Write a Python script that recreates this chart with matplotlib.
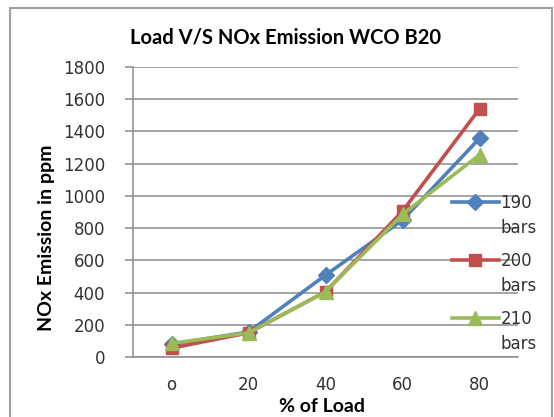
import matplotlib
matplotlib.use("Agg")
import matplotlib.pyplot as plt
from matplotlib.patches import Rectangle

load_labels = ["o", "20", "40", "60", "80"]
nox_190 = [80, 155, 508, 850, 1357]
nox_200 = [55, 150, 405, 905, 1540]
nox_210 = [85, 150, 405, 885, 1255]
series_names = ["190", "200", "210"]

W, H = 554, 417
fig = plt.figure(figsize=(W / 100, H / 100), dpi=100)
ax = fig.add_axes([133 / W, 1 - 357 / H, 385 / W, 290 / H])

grey = "#8c8c8c"
x = range(len(load_labels))
styles = [
    (nox_190, "#4F81BD", "D", 8),
    (nox_200, "#C0504D", "s", 9),
    (nox_210, "#9BBB59", "^", 10),
]
handles = []
for vals, col, mk, ms in styles:
    h, = ax.plot(x, vals, color=col, lw=2.6, marker=mk, ms=ms, zorder=3)
    handles.append(h)

ax.set_xlim(-0.5, 4.5)
ax.set_ylim(0, 1800)
ax.set_yticks(range(0, 1801, 200))
ax.set_xticks(list(x))
ax.set_xticklabels(load_labels)
ax.yaxis.grid(True, color=grey, lw=1.1)
ax.set_axisbelow(True)
for s in ["top", "right"]:
    ax.spines[s].set_visible(False)
for s in ["left", "bottom"]:
    ax.spines[s].set_color(grey)
    ax.spines[s].set_linewidth(1.1)
ax.tick_params(axis="y", length=6, width=1.1, color=grey, labelsize=12,
               labelcolor="#333333", pad=14)
ax.tick_params(axis="x", length=0, labelsize=12, labelcolor="#333333", pad=14)

lab_font = dict(family="Lato", weight="bold", size=14)
ax.set_xlabel("% of Load", **lab_font)
ax.xaxis.label.set_va("center")
ax.xaxis.set_label_coords(0.49, (357 - 406) / 290)
ax.set_ylabel("NOx Emission in ppm", **lab_font)
ax.yaxis.label.set_va("center")
ax.yaxis.set_label_coords((47 - 133) / 385, (357 - 238) / 290)

fig.text(285 / W, 1 - 37 / H, "Load V/S NOx Emission WCO B20",
         ha="center", va="center", family="Lato", weight="bold", size=14.5)

leg = ax.legend(handles, series_names, loc="upper left",
                bbox_to_anchor=(452 / W, 1 - 194 / H),
                bbox_transform=fig.transFigure, frameon=False,
                fontsize=12, handlelength=2.8, handletextpad=0.1,
                labelspacing=2.4, borderpad=0, borderaxespad=0)
for t in leg.get_texts():
    t.set_color("#333333")

fig.canvas.draw()
inv = fig.transFigure.inverted()
for t in leg.get_texts():
    bb = t.get_window_extent().transformed(inv)
    fig.text(bb.x0, bb.y0 - 7 / H, "bars", ha="left", va="top",
             fontsize=12, color="#333333")

fig.patches.append(Rectangle((10 / W, -0.1), 542 / W, 1.1 - 8 / H,
                             transform=fig.transFigure, fill=False,
                             edgecolor="#a0a0a0", lw=1.5))

fig.savefig("out.png", dpi=100)
